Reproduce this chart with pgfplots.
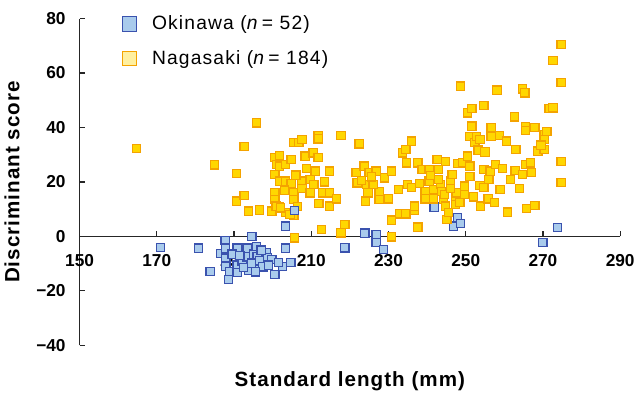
\documentclass[border=0pt]{standalone}
\usepackage{pgfplots}
\pgfplotsset{compat=1.18}
\usepackage{fontspec}
\setmainfont{Liberation Sans}
\definecolor{okfill}{HTML}{A9CBEC}
\definecolor{okedge}{HTML}{3A52AE}
\definecolor{ngfill}{HTML}{FFD700}
\definecolor{ngedge}{HTML}{F4A300}
\definecolor{nglegfill}{HTML}{FFF0A0}
\begin{document}
\begin{tikzpicture}
\begin{axis}[
  scale only axis, width=407pt, height=246pt,
  xmin=150, xmax=290, ymin=-40, ymax=80,
  axis x line=middle, axis y line=left,
  hide obscured x ticks=false, hide obscured y ticks=false,
  axis line style={-, line width=0.9pt, black!85},
  xtick={150,170,...,290}, ytick={-40,-20,...,80},
  xticklabels={150,170,190,210,230,250,270,290},
  yticklabels={−40,−20,0,20,40,60,80},
  tick align=inside, major tick length=4pt,
  tick style={line width=0.9pt, black!85},
  ticklabel style={font=\bfseries\fontsize{13}{13}\selectfont},
  xticklabel style={anchor=north, yshift=-10pt},
  yticklabel style={anchor=east, xshift=-7pt},
  xlabel={Standard length (mm)}, ylabel={Discriminant score},
  label style={font=\bfseries\fontsize{15.5}{16}\selectfont\addfontfeatures{LetterSpace=5}},
  xlabel style={at={(axis description cs:0.5,-0.11)}, anchor=center},
  ylabel style={at={(axis description cs:-0.125,0.5)}, anchor=center, rotate=0},
  clip=false,
  legend style={draw=none, fill=none, at={(axis description cs:0.07,1.025)}, anchor=north west,
    font=\fontsize{14.5}{15}\selectfont\addfontfeatures{LetterSpace=6}, row sep=10pt,
    nodes={inner xsep=5pt},
    /tikz/every odd column/.append style={column sep=6pt}},
  legend cell align=left,
]
\path (rel axis cs:0,1) ++(0pt,14pt);
\addplot[only marks, mark=square*, mark size=3.1pt,
  mark options={fill=okfill, draw=okedge, line width=0.9pt},
  legend image code/.code={\draw[fill=okfill, draw=okedge, line width=0.9pt] (-3pt,-5.5pt) rectangle (8pt,5.5pt);}]
coordinates {
(171.0,-4.0) (180.8,-4.3) (183.8,-12.8) (186.6,-6.3) (187.7,-1.5) (187.8,-4.3)
(187.9,-8.0) (187.9,-10.9) (188.5,-15.8) (188.9,-12.8) (190.8,-4.3) (190.8,-10.5)
(190.8,-13.3) (192.1,-9.2) (193.4,-4.3) (193.4,-7.5) (193.7,-12.4) (194.6,-0.1)
(195.0,-6.5) (195.8,-3.6) (196.0,-7.3) (196.0,-11.0) (196.6,-9.0) (197.5,-11.2)
(198.4,-6.0) (198.7,-7.8) (199.8,-8.4) (200.6,-14.0) (202.5,-11.0) (203.4,-4.3)
(203.4,3.8) (204.7,-9.5) (218.7,-4.2) (223.9,1.2) (226.8,0.6)
(226.8,-2.3) (228.7,-4.8) (241.8,10.8) (246.8,3.8) (247.9,6.9) (248.7,4.8)
(270.0,-2.3) (273.7,3.2)
(189.5,-6.5) (191.5,-7.0) (192.5,-11.5) (194.5,-9.8) (195.5,-13.0) (197.0,-5.0)
(199.0,-10.5) (201.5,-9.5)
};
\addlegendentry{Okinawa (\textit{n}\,= 52)}
\addplot[only marks, mark=square*, mark size=3.1pt,
  mark options={fill=ngfill, draw=ngedge, line width=0.9pt},
  legend image code/.code={\draw[fill=nglegfill, draw=ngedge, line width=0.9pt] (-3pt,-5.5pt) rectangle (8pt,5.5pt);}]
coordinates {
(164.7,32.2) (185.0,26.3) (190.7,23.1) (190.7,13.0) (192.6,33.1) (192.6,15.0)
(193.7,9.3) (195.8,41.7) (196.6,9.7) (199.8,9.3) (200.6,28.9) (200.6,22.8)
(200.6,16.0) (200.6,13.6) (201.1,26.4) (201.8,29.7) (201.8,25.8) (201.8,20.3)
(201.8,10.9) (203.4,26.4) (203.4,20.3) (203.4,8.7) (204.8,28.3) (204.8,19.3)
(205.5,34.4) (205.5,16.0) (205.5,13.6) (205.5,7.7) (205.7,-0.5) (206.8,34.4)
(207.6,35.6) (207.6,20.3) (207.6,17.5) (208.4,29.5) (209.7,20.9) (209.7,16.0)
(210.5,30.7) (210.7,19.1) (211.8,28.9) (211.8,37.1) (211.8,35.8) (212.6,2.6)
(212.9,16.0) (214.7,16.0) (214.7,24.0) (214.7,11.1) (216.6,13.8) (217.7,37.1)
(217.7,1.3) (218.7,4.3) (222.4,34.0) (221.6,23.4) (221.9,19.7) (223.7,25.8)
(224.0,13.0) (224.4,19.1) (224.7,16.0) (225.0,23.4) (226.8,24.0) (227.6,16.6)
(227.6,13.6) (228.9,21.5) (229.9,13.8) (230.8,24.0) (230.8,6.0) (230.8,-0.2)
(232.6,17.2) (232.9,8.3) (233.7,30.7) (234.5,31.9) (234.5,8.3) (234.7,27.0)
(234.9,19.1) (236.0,35.0) (236.0,17.9) (236.8,9.7) (236.8,11.1) (237.6,3.4)
(237.6,27.0) (238.7,24.6) (239.5,16.6) (239.5,13.8) (240.5,20.3) (240.5,24.6)
(241.6,17.2) (241.6,13.8) (242.6,28.3) (242.9,24.6) (243.5,19.1) (243.7,16.6)
(244.2,13.6) (244.7,27.6) (244.7,11.1) (245.1,6.2) (245.5,8.7) (246.1,20.3)
(246.5,22.8) (247.4,14.2) (247.4,11.7) (247.6,16.0) (247.9,26.7) (248.6,55.2)
(249.3,27.0) (249.7,15.4) (249.7,18.5) (250.5,29.5) (250.5,45.4) (251.1,36.6)
(251.1,25.8) (251.1,22.1) (251.6,46.9) (251.6,40.5) (252.4,34.4) (252.8,36.6)
(253.2,31.7) (253.7,35.6) (253.7,18.7) (253.9,11.1) (254.7,48.1) (254.7,24.6)
(254.7,17.9) (255.8,13.8) (256.3,24.0) (256.6,39.9) (256.6,36.8) (257.4,12.4)
(257.7,26.4) (258.1,53.7) (258.7,37.1) (258.9,17.2) (260.5,35.0) (260.8,8.9)
(261.6,20.9) (262.6,43.9) (262.8,24.3) (263.9,17.5) (264.7,54.2) (264.7,22.8)
(265.3,52.7) (265.5,40.2) (265.5,39.0) (265.5,26.4) (265.8,10.2) (266.8,27.0)
(267.9,39.9) (267.9,11.4) (268.7,31.3) (270.3,37.4) (270.3,35.6) (270.3,31.9)
(271.6,46.9) (272.6,47.2) (272.6,64.7) (274.7,70.5) (274.7,56.6) (274.7,27.6)
(274.7,19.9)
(200.9,11.1) (202.0,10.5) (204.5,8.1) (206.5,11.0) (203.0,17.0) (206.0,22.5)
(208.8,25.0) (211.0,24.0) (213.5,20.0) (212.0,12.0) (226.0,19.0) (225.6,21.9)
(240.9,22.3) (223.0,20.5) (243.0,21.0) (238.0,19.5) (244.5,15.5) (246.0,17.5)
(248.5,12.5) (252.0,14.5) (256.0,21.0) (259.5,25.0) (263.0,32.0) (267.0,23.5)
(269.5,33.5) (271.0,38.5) (255.0,31.0)
};
\addlegendentry{Nagasaki (\textit{n}\,= 184)}
\addplot[only marks, mark=square*, mark size=3.1pt,
  mark options={fill=okfill, draw=okedge, line width=0.9pt}, forget plot]
coordinates {(205.7,9.5)};
\end{axis}
\end{tikzpicture}
\end{document}
